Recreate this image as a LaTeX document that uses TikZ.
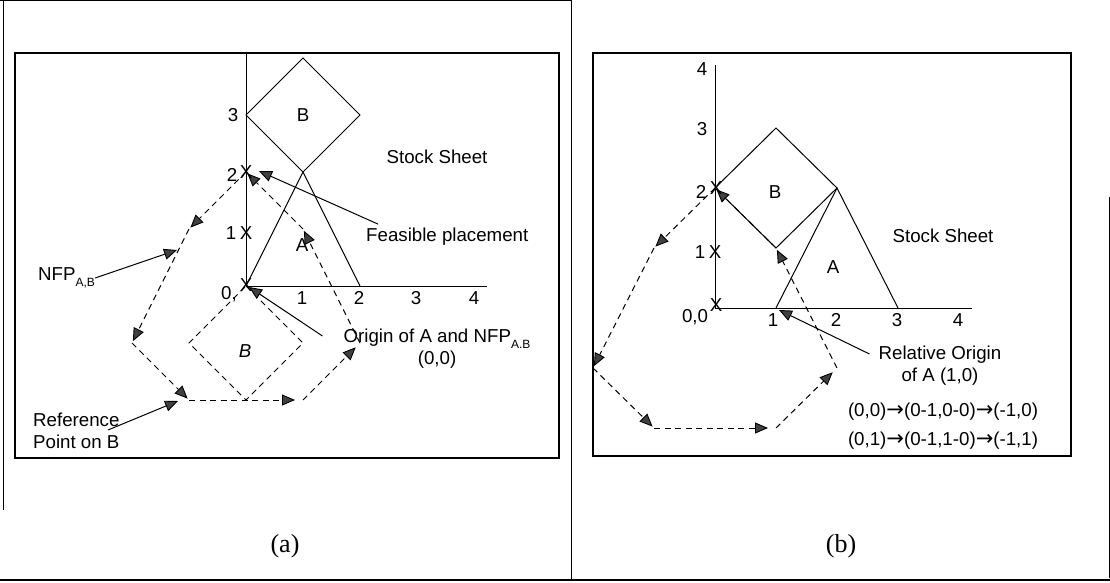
\documentclass[tikz,border=0pt]{standalone}
\usepackage{fontspec}
\setmainfont{Liberation Sans}
\newfontfamily\capfont{Liberation Serif}
\newfontfamily\arrfont{DejaVu Sans}
\usetikzlibrary{arrows.meta}
\newcommand{\mysub}[1]{\raisebox{-0.3em}{\fontsize{12}{12}\selectfont #1}}
\newcommand{\myarr}{{\arrfont\fontsize{21}{22}\selectfont →}}
\begin{document}
\begin{tikzpicture}[x=1pt,y=-1pt,
  lbl/.style={font=\fontsize{18.7}{22}\selectfont, inner sep=0pt},
  caplbl/.style={font=\capfont\fontsize{26}{30}\selectfont, inner sep=0pt},
  arrowhd/.style={-{Triangle[length=13pt,width=11pt,color=black,fill=black!75,line width=0.9pt]}},
  nfp/.style={arrowhd, dash pattern=on 6pt off 4.5pt, line width=1pt, shorten >=2pt},
  dashb/.style={dash pattern=on 6pt off 4.5pt, line width=1pt},
  ptr/.style={arrowhd, line width=1pt},
  outline/.style={line width=1pt},
  boxline/.style={line width=1.3pt}
]
\useasboundingbox (0,0) rectangle (1110,583);
% outer table lines
\draw[line width=1pt] (0,1) -- (571,1);
\draw[line width=1pt] (3,1) -- (3,510);
\draw[line width=1pt] (571,0) -- (571,580);
\draw[line width=1pt] (1109,197) -- (1109,578);
\draw[line width=1.3pt] (0,580) -- (1110,580);
% inner frames
\draw[boxline] (15,53) rectangle (559,458);
\draw[boxline] (593,53) rectangle (1071,456);

% ---------------- panel (a) ----------------
\begin{scope}[shift={(246,286)}, x=57pt, y=57pt]
  \coordinate (aO) at (0,0);
  \draw[outline] (0,0) -- (0,4.09);
  \draw[outline] (0,0) -- (4.23,0);
  \draw[outline] (0,3) -- (1,4) -- (2,3) -- (1,2) -- cycle;
  \draw[outline] (0,0) -- (1,2) -- (2,0);
  \draw[dashb] (0,0) -- (1,-1) -- (0,-2) -- (-1,-1) -- cycle;
  \coordinate (a1) at (0,2);
  \coordinate (a2) at (-1,1);
  \coordinate (a3) at (-2,-1);
  \coordinate (a4) at (-1,-2);
  \coordinate (a5) at (1,-2);
  \coordinate (a6) at (2,-1);
  \coordinate (a7) at (1,1);
  \draw[nfp] (a1) -- (a2);
  \draw[nfp] (a2) -- (a3);
  \draw[nfp] (a3) -- (a4);
  \draw[nfp, shorten >=8pt] (a4) -- (a5);
  \draw[nfp, shorten >=6pt] (a5) -- (a6);
  \draw[nfp] (a6) -- (a7);
  \draw[nfp] (a7) -- (a1);
\end{scope}
% axis labels (a)
\node[lbl] (ay3) at (233,115) {3};
\node[lbl] (ay2) at (232,175) {2};
\node[lbl] (ay1) at (231,233) {1};
\node[lbl] (ay0) at (229,294) {0,};
\node[lbl] (ax2) at (246,172) {X};
\node[lbl] (ax1) at (246,233) {X};
\node[lbl] (ax0) at (246,285) {X};
\node[lbl] (axl1) at (302,298) {1};
\node[lbl] (axl2) at (359,298) {2};
\node[lbl] (axl3) at (416,298) {3};
\node[lbl] (axl4) at (474,298) {4};
\node[lbl] (aB) at (303,115) {B};
\node[lbl] (aA) at (302,245) {A};
\node[lbl, font=\fontsize{18.7}{22}\selectfont\itshape] (aBd) at (245,351) {B};
\node[lbl] (astock) at (437,157) {Stock Sheet};
\node[lbl, anchor=west] (afeas) at (366,237) {Feasible placement};
\node[lbl, anchor=west] (anfp) at (38,278) {NFP\mysub{A,B}};
\node[lbl, align=center] (aorig) at (437,349) {Origin of A and NFP\mysub{A.B}\\(0,0)};
\node[lbl, align=left, anchor=west] (aref) at (33,431) {Reference\\Point on B};
\node[caplbl] (acap) at (285,546) {(a)};
% pointers (a)
\coordinate (afeastip) at (259,171);
\coordinate (anfptip) at (177,250);
\coordinate (aorigtip) at (249,287);
\coordinate (areftip) at (178,401);
\draw[ptr] ([xshift=12pt,yshift=4pt]afeas.north west) -- (afeastip);
\draw[ptr] (anfp.east) -- (anfptip);
\draw[ptr] ([xshift=-21pt,yshift=13pt]aorig.west) -- (aorigtip);
\draw[ptr] ([xshift=75pt,yshift=1pt]aref.west) -- (areftip);

% ---------------- panel (b) ----------------
\begin{scope}[shift={(715,308)}, x=61pt, y=60pt]
  \coordinate (bO) at (0,0);
  \draw[outline] (0,0) -- (0,4.05);
  \draw[outline] (0,0) -- (4.21,0);
  \draw[outline] (0,2) -- (1,3) -- (2,2) -- (1,1) -- cycle;
  \draw[outline] (1,0) -- (2,2) -- (3,0);
  \coordinate (b1) at (0,2);
  \coordinate (b2) at (-1,1);
  \coordinate (b3) at (-2,-1);
  \coordinate (b4) at (-1,-2);
  \coordinate (b5) at (1,-2);
  \coordinate (b6) at (2,-1);
  \coordinate (b7) at (1,1);
  \draw[nfp] (b1) -- (b2);
  \draw[nfp] (b2) -- (b3);
  \draw[nfp] (b3) -- (b4);
  \draw[nfp, shorten >=8pt] (b4) -- (b5);
  \draw[nfp, shorten >=6pt] (b5) -- (b6);
  \draw[nfp] (b6) -- (b7);
  \draw[nfp] (b7) -- (b1);
\end{scope}
\node[lbl] (by4) at (702,69) {4};
\node[lbl] (by3) at (702,129) {3};
\node[lbl] (by2) at (701,192) {2};
\node[lbl] (by1) at (700,252) {1};
\node[lbl] (by0) at (695,317) {0,0};
\node[lbl] (bx2) at (716,188) {X};
\node[lbl] (bx1) at (715,252) {X};
\node[lbl] (bx0) at (716,305) {X};
\node[lbl] (bxl1) at (773,320) {1};
\node[lbl] (bxl2) at (836,320) {2};
\node[lbl] (bxl3) at (897,320) {3};
\node[lbl] (bxl4) at (958,320) {4};
\node[lbl] (bB) at (775,192) {B};
\node[lbl] (bA) at (833,267) {A};
\node[lbl] (bstock) at (943,236) {Stock Sheet};
\node[lbl, align=center] (brel) at (940,366) {Relative Origin\\of A (1,0)};
\node[lbl] (bf1) at (943,412) {(0,0)\myarr(0-1,0-0)\myarr(-1,0)};
\node[lbl] (bf2) at (943,441) {(0,1)\myarr(0-1,1-0)\myarr(-1,1)};
\node[caplbl] (bcap) at (841,546) {(b)};
\coordinate (breltip) at (779,310);
\draw[ptr] ([xshift=-9pt,yshift=12pt]brel.west) -- (breltip);
\end{tikzpicture}
\end{document}
